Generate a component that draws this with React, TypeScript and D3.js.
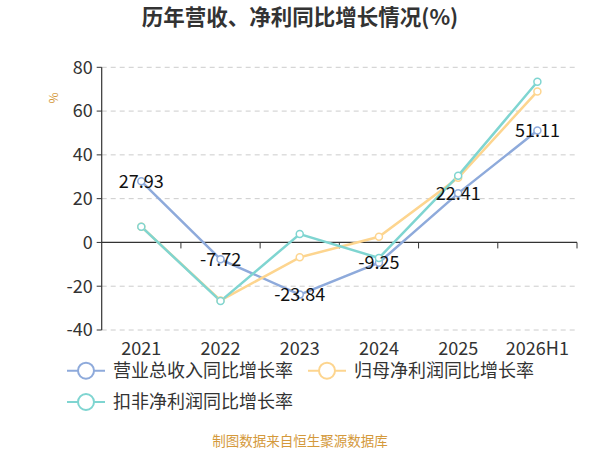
import React from "react";
import * as d3 from "d3";

const categories = ["2021", "2022", "2023", "2024", "2025", "2026H1"];
const revenueGrowth = [27.93, -7.72, -23.84, -9.25, 22.41, 51.11];
const netProfitGrowth = [7.2, -26.5, -6.8, 2.6, 29.5, 69.0];
const deductedProfitGrowth = [7.2, -26.8, 3.8, -7.1, 30.5, 73.4];
const yTicks = [80, 60, 40, 20, 0, -20, -40];

const seriesNames = ["营业总收入同比增长率", "归母净利润同比增长率", "扣非净利润同比增长率"];
const seriesColors = ["#8eaadb", "#fdd58f", "#7fd5d1"];

const W = 600;
const H = 450;
const FONT = "'Noto Sans CJK SC', 'Noto Sans', sans-serif";

export default function App() {
  const left = 101.7;
  const right = 577;
  const top = 67.3;
  const bottom = 330;
  const x = d3.scaleBand<string>().domain(categories).range([left, right]);
  const y = d3.scaleLinear().domain([-40, 80]).range([bottom, top]);
  const cx = (c: string) => (x(c) as number) + x.bandwidth() / 2;
  const all = [revenueGrowth, netProfitGrowth, deductedProfitGrowth];
  const line = d3
    .line<number>()
    .x((_, i) => cx(categories[i]))
    .y((d) => y(d));

  const tickPositions = categories.map((c) => (x(c) as number) + x.bandwidth());

  return (
    <div style={{ position: "fixed", left: 0, top: 0, width: W, height: H, overflow: "hidden" }}>
      <svg width={W} height={H} style={{ display: "block", fontFamily: FONT }}>
        <rect width={W} height={H} fill="#fff" />
        <text x={300} y={25} textAnchor="middle" fontSize={21.5} fontWeight="bold" fill="#333">
          历年营收、净利同比增长情况(%)
        </text>
        <text
          transform={`translate(58,98) rotate(-90)`}
          textAnchor="middle"
          fontSize={12}
          fill="#d4993b"
        >
          %
        </text>
        {yTicks.map((t) => (
          <g key={t}>
            {t !== 0 && (
              <line
                x1={left}
                x2={right}
                y1={y(t)}
                y2={y(t)}
                stroke="#cccccc"
                strokeDasharray="5,4"
                strokeWidth={1}
              />
            )}
            <line x1={left - 5} x2={left} y1={y(t)} y2={y(t)} stroke="#333" strokeWidth={1} />
            <text x={left - 9} y={y(t)} dy="0.35em" textAnchor="end" fontSize={18} fill="#333">
              {t}
            </text>
          </g>
        ))}
        <line x1={left} x2={left} y1={top} y2={bottom} stroke="#333" strokeWidth={1.2} />
        <line x1={left} x2={right} y1={y(0)} y2={y(0)} stroke="#333" strokeWidth={1.2} />
        {tickPositions.map((p, i) => (
          <line key={i} x1={p} x2={p} y1={y(0)} y2={y(0) + 6} stroke="#333" strokeWidth={1} />
        ))}
        {categories.map((c) => (
          <text key={c} x={cx(c)} y={355} textAnchor="middle" fontSize={18} fill="#333">
            {c}
          </text>
        ))}
        {all.map((s, si) => (
          <path key={si} d={line(s) || ""} fill="none" stroke={seriesColors[si]} strokeWidth={2.5} />
        ))}
        {all.map((s, si) =>
          s.map((v, i) => (
            <circle
              key={`${si}-${i}`}
              cx={cx(categories[i])}
              cy={y(v)}
              r={3.5}
              fill="#fff"
              stroke={seriesColors[si]}
              strokeWidth={1.5}
            />
          ))
        )}
        {revenueGrowth.map((v, i) => (
          <text
            key={i}
            x={cx(categories[i])}
            y={y(v)}
            dy="0.35em"
            textAnchor="middle"
            fontSize={18}
            fill="#111"
          >
            {v.toFixed(2)}
          </text>
        ))}
        {seriesNames.map((n, i) => {
          const lx = i === 1 ? 308 : 67;
          const ly = i === 2 ? 402 : 370.7;
          return (
            <g key={n}>
              <line x1={lx} x2={lx + 38} y1={ly} y2={ly} stroke={seriesColors[i]} strokeWidth={2} />
              <circle cx={lx + 19} cy={ly} r={8} fill="#fff" stroke={seriesColors[i]} strokeWidth={2} />
              <text x={lx + 46} y={ly} dy="0.35em" fontSize={18} fill="#333">
                {n}
              </text>
            </g>
          );
        })}
        <text x={300} y={441} dy="0.35em" textAnchor="middle" fontSize={13.5} fill="#d4993b">
          制图数据来自恒生聚源数据库
        </text>
      </svg>
    </div>
  );
}
